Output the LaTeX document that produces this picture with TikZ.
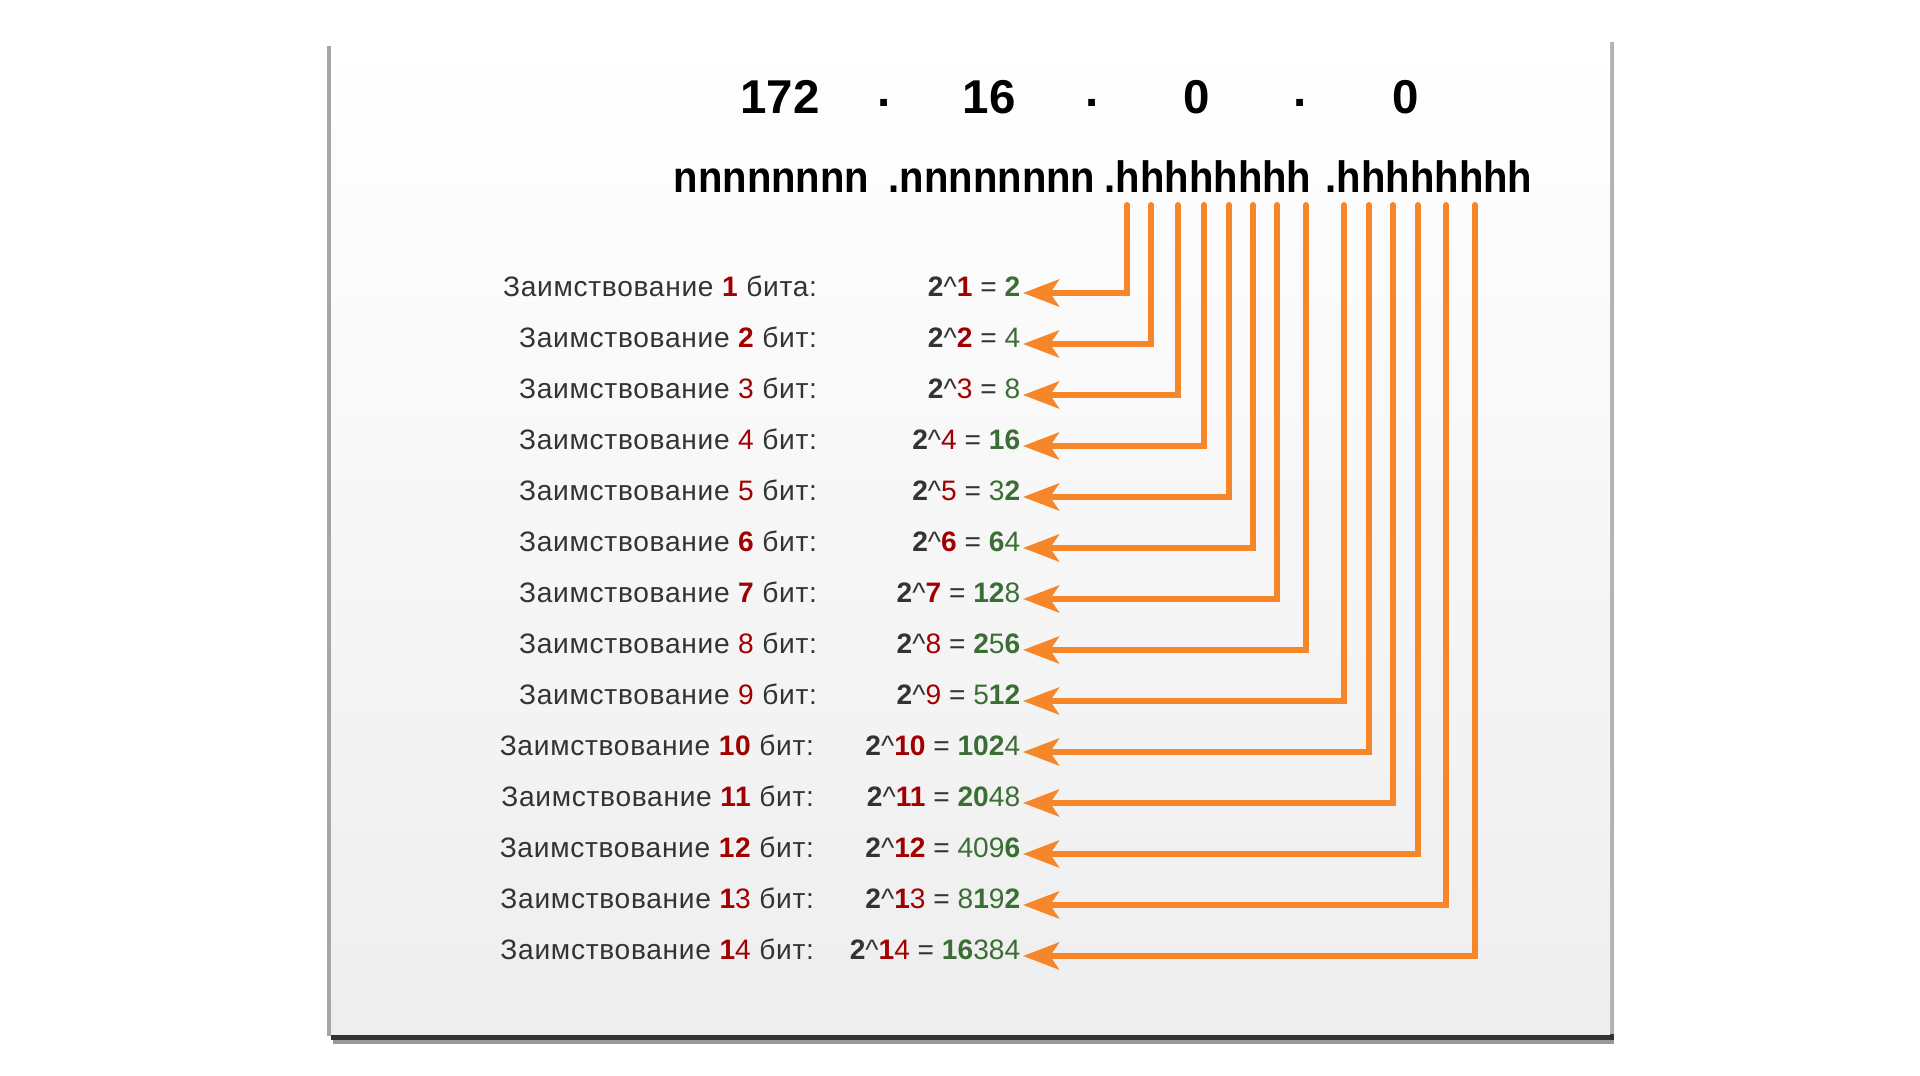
\documentclass[tikz,border=0pt]{standalone}
\usepackage{fontspec}
\setmainfont{Liberation Sans}
\usetikzlibrary{arrows.meta}
\definecolor{dk}{RGB}{51,51,51}
\definecolor{rd}{RGB}{160,0,0}
\definecolor{gr}{RGB}{59,110,53}
\definecolor{orng}{RGB}{245,134,42}
\definecolor{bgc}{RGB}{239,238,238}
\newcommand\MyEx[1]{\textcolor{rd}{#1}}
\newcommand\MyExB[1]{\textcolor{rd}{\bfseries #1}}
\newcommand\MyRs[1]{\textcolor{gr}{#1}}
\newcommand\MyRsB[1]{\textcolor{gr}{\bfseries #1}}
\newcommand\MyPow[2]{\textbf{2}\textasciicircum #1 = #2}
\newcommand\MyLbl[2]{\addfontfeature{LetterSpace=2.5}Заимствование #1 #2:}
\newcommand\MyDot{\raisebox{0.07cm}{.}}
\begin{document}
\begin{tikzpicture}[x=0.01cm,y=-0.01cm,
  lbl/.style={anchor=east, inner sep=0pt, outer sep=0pt, text height=0.72em, text depth=0.5em,
    font=\fontsize{8pt}{9pt}\selectfont, text=dk},
  frm/.style={lbl, outer sep=0.8pt},
  conn/.style={draw=orng, line width=0.06cm, line cap=round,
    -{Stealth[length=3.6mm,width=2.7mm,inset=0.9mm]}},
  ttl/.style={anchor=base, font=\fontsize{13.5pt}{15pt}\selectfont\bfseries, inner sep=0pt},
  bits/.style={anchor=base west, font=\fontsize{12.5pt}{14pt}\selectfont\bfseries, inner sep=0pt},
]
\useasboundingbox (0,0) rectangle (1920,1076);
\fill[white] (0,0) rectangle (1920,1076);
% slide shadow and background
\fill[black!30] (1609,42) rectangle (1614,1036);
\fill[black!35] (327,46) rectangle (331,1036);
\fill[black!80] (331,1034) rectangle (1614,1040);
\fill[black!40] (333,1040) rectangle (1614,1044);
\shade[top color=white, bottom color=bgc] (331,38) rectangle (1610,1034);
% title
\node[ttl] (o1) at (780,114) {172};
\node[ttl] (d1) at (884,114) {\MyDot};
\node[ttl] (o2) at (989,114) {16};
\node[ttl] (d2) at (1092,114) {\MyDot};
\node[ttl] (o3) at (1197,114) {0};
\node[ttl] (d3) at (1300,114) {\MyDot};
\node[ttl] (o4) at (1406,114) {0};
% bit pattern
\node[bits] (g1) at (673,193) {\scalebox{0.91}[1]{nnnnnnnn}};
\node[bits] (g2) at (888,193) {\scalebox{0.91}[1]{.nnnnnnnn}};
\node[bits] (g3) at (1104,193) {\scalebox{0.91}[1]{.hhhhhhhh}};
\node[bits] (g4) at (1325,193) {\scalebox{0.91}[1]{.hhhhhhhh}};
% bit columns
\coordinate (b1) at (1127,205);
\coordinate (b2) at (1151,205);
\coordinate (b3) at (1178,205);
\coordinate (b4) at (1204,205);
\coordinate (b5) at (1229,205);
\coordinate (b6) at (1253,205);
\coordinate (b7) at (1277,205);
\coordinate (b8) at (1306,205);
\coordinate (b9) at (1344,205);
\coordinate (b10) at (1369,205);
\coordinate (b11) at (1393,205);
\coordinate (b12) at (1418,205);
\coordinate (b13) at (1446,205);
\coordinate (b14) at (1475,205);
% labels
\node[lbl] (l1) at (817,293) {\MyLbl{\MyExB{1}}{бита}};
\node[lbl] (l2) at (817,344) {\MyLbl{\MyExB{2}}{бит}};
\node[lbl] (l3) at (817,395) {\MyLbl{\MyEx{3}}{бит}};
\node[lbl] (l4) at (817,446) {\MyLbl{\MyEx{4}}{бит}};
\node[lbl] (l5) at (817,497) {\MyLbl{\MyEx{5}}{бит}};
\node[lbl] (l6) at (817,548) {\MyLbl{\MyExB{6}}{бит}};
\node[lbl] (l7) at (817,599) {\MyLbl{\MyExB{7}}{бит}};
\node[lbl] (l8) at (817,650) {\MyLbl{\MyEx{8}}{бит}};
\node[lbl] (l9) at (817,701) {\MyLbl{\MyEx{9}}{бит}};
\node[lbl] (l10) at (814,752) {\MyLbl{\MyExB{10}}{бит}};
\node[lbl] (l11) at (814,803) {\MyLbl{\MyExB{11}}{бит}};
\node[lbl] (l12) at (814,854) {\MyLbl{\MyExB{12}}{бит}};
\node[lbl] (l13) at (814,905) {\MyLbl{\MyExB{1}\MyEx{3}}{бит}};
\node[lbl] (l14) at (814,956) {\MyLbl{\MyExB{1}\MyEx{4}}{бит}};
% formulas
\node[frm] (f1) at (1023,293) {\MyPow{\MyExB{1}}{\MyRsB{2}}};
\node[frm] (f2) at (1023,344) {\MyPow{\MyExB{2}}{\MyRs{4}}};
\node[frm] (f3) at (1023,395) {\MyPow{\MyEx{3}}{\MyRs{8}}};
\node[frm] (f4) at (1023,446) {\MyPow{\MyEx{4}}{\MyRsB{16}}};
\node[frm] (f5) at (1023,497) {\MyPow{\MyEx{5}}{\MyRs{3}\MyRsB{2}}};
\node[frm] (f6) at (1023,548) {\MyPow{\MyExB{6}}{\MyRsB{6}\MyRs{4}}};
\node[frm] (f7) at (1023,599) {\MyPow{\MyExB{7}}{\MyRsB{12}\MyRs{8}}};
\node[frm] (f8) at (1023,650) {\MyPow{\MyEx{8}}{\MyRsB{2}\MyRs{5}\MyRsB{6}}};
\node[frm] (f9) at (1023,701) {\MyPow{\MyEx{9}}{\MyRs{5}\MyRsB{12}}};
\node[frm] (f10) at (1023,752) {\MyPow{\MyExB{10}}{\MyRsB{102}\MyRs{4}}};
\node[frm] (f11) at (1023,803) {\MyPow{\MyExB{11}}{\MyRsB{20}\MyRs{48}}};
\node[frm] (f12) at (1023,854) {\MyPow{\MyExB{12}}{\MyRs{409}\MyRsB{6}}};
\node[frm] (f13) at (1023,905) {\MyPow{\MyExB{1}\MyEx{3}}{\MyRs{8}\MyRsB{1}\MyRs{9}\MyRsB{2}}};
\node[frm] (f14) at (1023,956) {\MyPow{\MyExB{1}\MyEx{4}}{\MyRsB{16}\MyRs{384}}};
% connectors
\foreach \i in {1,...,14} {
  \draw[conn] (b\i) |- (f\i.east);
}
\end{tikzpicture}
\end{document}
